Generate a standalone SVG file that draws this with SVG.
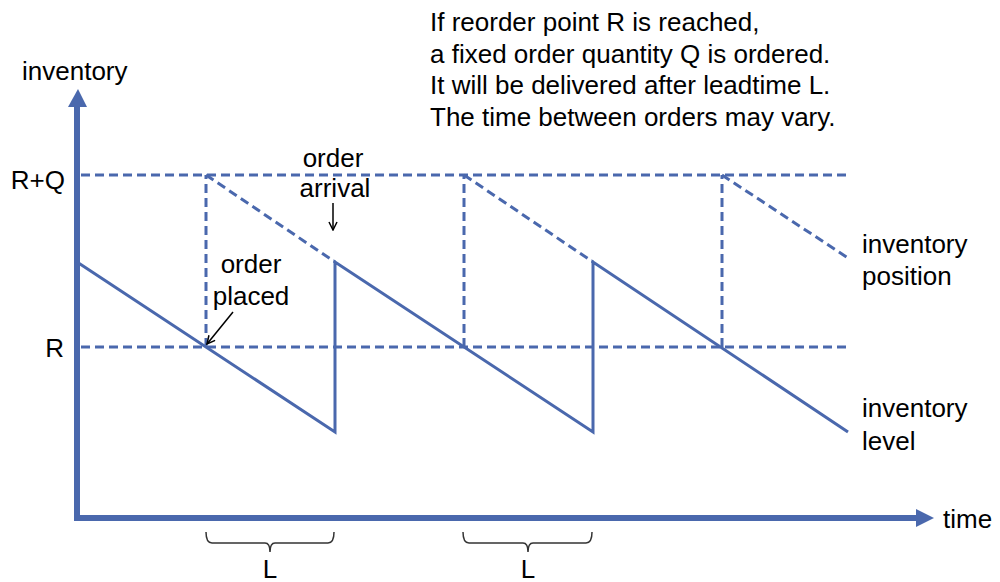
<svg xmlns="http://www.w3.org/2000/svg" width="1000" height="582" viewBox="0 0 1000 582">
<style>
text{font-family:"Liberation Sans",Arial,sans-serif;font-size:26px;fill:#000}
.axis{stroke:#4a68ad;stroke-width:6;fill:none}
.lvl{stroke:#4a68ad;stroke-width:3;fill:none;stroke-linejoin:miter}
.dash{stroke:#4a68ad;stroke-width:3;fill:none;stroke-dasharray:9 5}
.ptr{stroke:#000;stroke-width:1.5;fill:none}
.brace{stroke:#333;stroke-width:1.5;fill:none}
</style>
<defs>
<marker id="ah" markerWidth="10" markerHeight="10" refX="9" refY="5" orient="auto" markerUnits="userSpaceOnUse">
<path d="M1,1 L9,5 L1,9" fill="none" stroke="#000" stroke-width="1.5"/>
</marker>
</defs>
<g id="axes">
<line class="axis" x1="77" y1="104" x2="77" y2="518"/>
<line class="axis" x1="74" y1="518" x2="918" y2="518"/>
<polygon points="78,89 68,107 87,107" fill="#4a68ad"/>
<polygon points="934,518 916,509 916,527" fill="#4a68ad"/>
<text x="22" y="80">inventory</text>
<text x="943" y="528">time</text>
<text x="65" y="189" text-anchor="end">R+Q</text>
<text x="64" y="357" text-anchor="end">R</text>
</g>
<g id="connectors">
<line class="dash" x1="81" y1="175" x2="848" y2="175"/>
<line class="dash" x1="81" y1="347" x2="848" y2="347"/>
<line class="dash" x1="206" y1="347" x2="206" y2="175"/>
<line class="dash" x1="464" y1="347" x2="464" y2="175"/>
<line class="dash" x1="722" y1="347" x2="722" y2="175"/>
<line class="dash" x1="206" y1="175" x2="335" y2="262"/>
<line class="dash" x1="464" y1="175" x2="593" y2="262"/>
<line class="dash" x1="722" y1="175" x2="848" y2="258"/>
<polyline class="lvl" points="77,262 335,432 335,262 593,432 593,262 848,432"/>
<line class="ptr" x1="333" y1="203" x2="333" y2="230" marker-end="url(#ah)"/>
<line class="ptr" x1="233" y1="312" x2="207" y2="344" marker-end="url(#ah)"/>
</g>
<g id="braces">
<path class="brace" d="M206,532 Q206,543 212,543 L265,543 Q270,543 270,552 Q270,543 275,543 L328,543 Q334,543 334,532"/>
<path class="brace" d="M463,532 Q463,543 469,543 L523,543 Q528,543 528,552 Q528,543 533,543 L586,543 Q592,543 592,532"/>
<text x="270" y="578" text-anchor="middle">L</text>
<text x="528" y="578" text-anchor="middle">L</text>
</g>
<g id="labels">
<text x="333" y="167" text-anchor="middle">order</text>
<text x="335" y="197" text-anchor="middle">arrival</text>
<text x="251" y="273" text-anchor="middle">order</text>
<text x="251" y="305" text-anchor="middle">placed</text>
<text x="862" y="253">inventory</text>
<text x="862" y="285">position</text>
<text x="862" y="417">inventory</text>
<text x="862" y="450">level</text>
</g>
<g id="note">
<text x="430" y="31">If reorder point R is reached,</text>
<text x="430" y="63">a fixed order quantity Q is ordered.</text>
<text x="430" y="94">It will be delivered after leadtime L.</text>
<text x="430" y="126">The time between orders may vary.</text>
</g>
</svg>
